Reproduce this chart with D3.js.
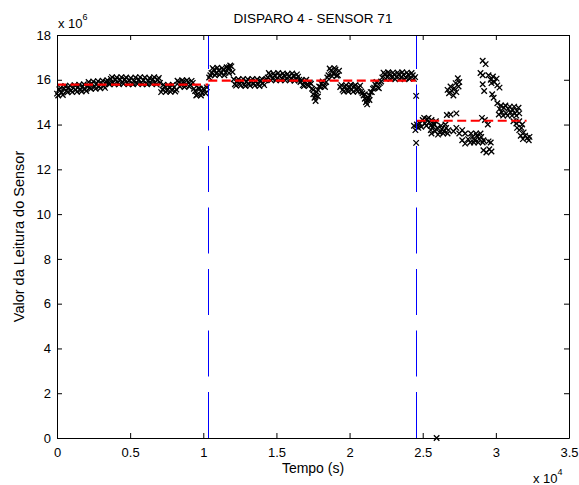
<!DOCTYPE html>
<html>
<head>
<meta charset="utf-8">
<script src="https://cdn.jsdelivr.net/npm/d3@7"></script>
<style>
  body { margin: 0; background: #fff; }
  svg { display: block; font-family: "Liberation Sans", Arial, sans-serif; }
</style>
</head>
<body>
<svg id="chart" width="579" height="485"></svg>
<script>
// leituras do sensor (tempo em s, valor em unidades de 10^6)
const tempo1 = [0,160,320,480,640,800,960,1120,1280,1440,1600,1760,1920,2080,2240,2400,2560,2720,2880,3040,
  3200,3360,3520,3680,3840,4000,4160,4320,4480,4640,4800,4960,5120,5280,5440,5600,5760,5920,6080,6240,
  6400,6560,6720,6880,7040,7200,7360,7520,7680,7840,8000,8160,8320,8480,8640,8800,8960,9120,9280,9440,
  9600,9760,9920,10080,10240,
  80,240,400,560,720,880,1040,1200,1360,1520,1680,1840,2000,2160,2320,2480,2640,2800,2960,3120,
  3280,3440,3600,3760,3920,4080,4240,4400,4560,4720,4880,5040,5200,5360,5520,5680,5840,6000,6160,6320,
  6480,6640,6800,6960,7120,7280,7440,7600,7760,7920,8080,8240,8400,8560,8720,8880,9040,9200,9360,9520,
  9680,9840,10000,10160];
const leitura1 = [15.38,15.58,15.42,15.6,15.5,15.66,15.52,15.64,15.55,15.68,15.54,15.7,15.58,15.72,15.64,15.82,15.68,15.84,15.7,15.86,
  15.72,15.9,15.84,16.04,15.88,16.02,15.86,16.0,15.88,16.02,15.86,15.98,15.84,15.96,15.86,16.0,15.88,15.98,15.84,15.96,
  15.86,16.02,15.88,16.0,15.86,15.56,15.7,15.52,15.68,15.54,15.66,15.56,15.9,15.76,15.92,15.74,15.9,15.76,15.86,15.5,
  15.34,15.6,15.42,15.56,15.66,
  15.3,15.64,15.32,15.72,15.44,15.74,15.45,15.76,15.46,15.78,15.48,15.8,15.5,15.9,15.6,15.92,15.6,15.94,15.62,15.96,
  15.64,15.98,15.8,16.12,15.8,16.1,15.8,16.12,15.82,16.1,15.8,16.08,15.8,16.1,15.82,16.12,15.8,16.1,15.8,16.08,
  15.82,16.12,15.8,16.08,15.45,15.78,15.46,15.76,15.46,15.78,15.48,15.96,15.7,15.98,15.68,15.98,15.7,15.95,15.6,15.3,
  15.62,15.3,15.6,15.4];

const tempo2 = [10400,10560,10720,10880,11040,11200,11360,11520,11680,11760,11840,12000,12160,12320,12480,12640,12800,12960,13120,13280,
  13440,13600,13760,13920,14080,14240,14400,14560,14720,14880,15040,15200,15360,15520,15680,15840,16000,16160,16320,16480,
  16640,16800,16960,17120,17280,17440,17520,17600,17680,17760,17840,17920,18080,18240,18400,18560,18720,18880,19040,19200,
  19360,19520,19680,19840,20000,20160,20320,20480,20640,20800,20960,21040,21120,21200,21280,21360,21440,21600,21760,21920,
  22080,22240,22400,22560,22720,22880,23040,23200,23360,23520,23680,23840,24000,24160,24320,24480,
  10480,10640,10800,10960,11120,11280,11440,11600,11760,11920,12080,12240,12400,12560,12720,12880,13040,13200,13360,13520,
  13680,13840,14000,14160,14320,14480,14640,14800,14960,15120,15280,15440,15600,15760,15920,16080,16240,16400,16560,16720,
  16880,17040,17200,17360,17520,17680,17840,18000,18160,18320,18480,18640,18800,18960,19120,19280,19440,19600,19760,19920,
  20080,20240,20400,20560,20720,20880,21040,21200,21360,21520,21680,21840,22000,22160,22320,22480,22640,22800,22960,23120,
  23280,23440,23600,23760,23920,24080,24240,24400];
const leitura2 = [16.1,16.3,16.45,16.28,16.42,16.3,16.46,16.32,16.5,16.56,16.64,16.35,15.8,15.96,15.8,15.94,15.78,15.92,15.8,15.96,
  15.82,15.94,15.8,15.96,15.84,15.98,16.1,16.22,16.06,16.2,16.04,16.18,16.06,16.2,16.04,16.16,16.04,16.18,16.02,16.14,
  15.9,15.76,15.92,15.78,15.88,15.6,15.35,15.2,15.05,15.45,15.25,15.7,15.82,15.72,15.9,16.2,16.42,16.28,16.46,16.2,
  15.68,15.55,15.7,15.52,15.68,15.56,15.72,15.54,15.66,15.48,15.3,15.15,15.0,14.9,15.2,15.3,15.45,15.6,15.78,15.66,
  15.86,16.1,16.26,16.12,16.28,16.1,16.24,16.12,16.26,16.1,16.22,16.1,16.24,16.08,16.2,16.12,
  16.2,16.52,16.2,16.54,16.22,16.52,16.2,16.56,16.3,16.6,16.02,15.74,16.02,15.74,16.04,15.72,16.02,15.74,16.04,15.74,
  16.02,15.72,16.04,15.76,16.02,16.3,15.98,16.28,15.98,16.3,15.98,16.28,15.98,16.26,15.98,16.28,15.96,16.24,16.0,15.98,
  15.72,16.0,15.72,15.82,15.55,15.3,15.55,15.68,15.92,15.68,16.1,16.5,16.16,16.52,16.18,16.4,15.76,15.48,15.76,15.48,
  15.78,15.46,15.76,15.48,15.74,15.4,15.35,15.1,15.1,15.45,15.65,15.9,15.62,15.92,16.32,16.04,16.34,16.04,16.32,16.02,
  16.32,16.04,16.34,16.02,16.32,16.04,16.3,16.04];

const tempo3 = [24400,24500,24550,24550,24600,24700,24800,24900,
  25000,25150,25300,25450,25600,25750,25900,25100,25250,25400,25550,
  25550,25700,25850,26000,26150,26300,26450,26600,26750,25600,25800,26050,26250,26400,26550,26700,
  25950,26650,26900,27300,
  26700,26800,26900,27000,27100,27150,27250,27300,27400,27450,27500,
  27100,27300,27500,27700,27900,
  27700,27900,28100,28250,
  28400,28550,28700,28850,29000,29150,28300,28500,28650,28800,28950,29100,
  29150,29350,29550,29700,29500,29650,
  29050,29250,29450,
  29100,29300,28950,29100,
  29500,29650,29800,29900,30050,29700,
  29100,29200,29750,29850,30100,30250,
  30100,30250,30400,30550,30700,30850,31000,31150,31300,31450,31600,
  30200,30350,30500,30650,30800,30950,31100,31250,31400,31550,
  31200,31400,31600,31800,
  31450,31600,31750,31900,
  31700,31850,32000,32150,32300,32250];
const leitura3 = [13.95,13.75,15.28,13.18,14.0,13.85,14.05,13.9,
  14.2,14.05,14.25,14.1,14.2,14.0,14.15,14.3,13.95,14.3,13.95,
  13.75,13.9,13.7,13.85,13.65,13.8,13.7,13.85,13.75,13.6,14.0,13.55,13.95,13.6,14.0,13.6,
  0,14.43,14.45,14.5,
  15.55,15.4,15.7,15.5,15.3,15.62,15.85,15.45,16.07,15.7,15.9,
  13.7,13.85,13.6,13.75,13.6,
  13.3,13.15,13.35,13.2,
  13.45,13.3,13.5,13.35,13.45,13.3,13.6,13.2,13.6,13.2,13.6,13.2,
  12.85,12.75,12.9,12.8,13.25,13.2,
  14.3,14.2,14.0,
  16.85,16.7,16.3,16.2,
  16.2,16.0,16.15,15.9,16.05,15.85,
  15.8,15.5,15.35,15.2,15.75,15.65,
  14.95,14.7,14.55,14.75,14.5,14.7,14.55,14.65,14.5,14.6,14.5,
  14.45,14.85,14.4,14.85,14.4,14.8,14.4,14.8,14.4,14.75,
  14.15,14.05,14.15,14.0,
  13.85,13.75,13.85,13.65,
  13.5,13.35,13.5,13.4,13.45,13.3];

// medias por trecho (linhas vermelhas)
const mediaInicio = [0, 10340, 24590];
const mediaFim = [10340, 24520, 32100];
const mediaValor = [15.78, 15.96, 14.17];

// instantes dos disparos (linhas azuis)
const disparos = [10340, 24520];

const xTicks = [0, 5000, 10000, 15000, 20000, 25000, 30000, 35000];
const yTicks = [0, 2, 4, 6, 8, 10, 12, 14, 16, 18];

const margin = {top: 35, right: 10, bottom: 47, left: 57};
const width = 579 - margin.left - margin.right;
const height = 485 - margin.top - margin.bottom;

const x = d3.scaleLinear().domain([0, 35000]).range([0, width]);
const y = d3.scaleLinear().domain([0, 18]).range([height, 0]);

const svg = d3.select("#chart");
svg.append("rect").attr("width", 579).attr("height", 485).attr("fill", "#fff");

const g = svg.append("g")
  .attr("transform", "translate(" + margin.left + "," + margin.top + ")");

// pontos
const pontos = [];
[[tempo1, leitura1], [tempo2, leitura2], [tempo3, leitura3]].forEach(function(s) {
  s[0].forEach(function(t, i) { pontos.push({t: t, v: s[1][i]}); });
});

const cross = "M-2.75,-2.75L2.75,2.75M-2.75,2.75L2.75,-2.75";
g.append("g").selectAll("path")
  .data(pontos)
  .enter().append("path")
    .attr("d", cross)
    .attr("transform", function(d) { return "translate(" + x(d.t) + "," + y(d.v) + ")"; })
    .attr("fill", "none")
    .attr("stroke", "#000")
    .attr("stroke-width", 1.3);

// medias
g.append("g").selectAll("line")
  .data(mediaValor)
  .enter().append("line")
    .attr("x1", function(d, i) { return x(mediaInicio[i]); })
    .attr("x2", function(d, i) { return x(mediaFim[i]); })
    .attr("y1", function(d) { return y(d); })
    .attr("y2", function(d) { return y(d); })
    .attr("stroke", "#ff0000")
    .attr("stroke-width", 2.2)
    .attr("stroke-dasharray", "9,4.5");

// disparos
g.append("g").selectAll("line")
  .data(disparos)
  .enter().append("line")
    .attr("x1", function(d) { return Math.round(x(d)) + 0.5; })
    .attr("x2", function(d) { return Math.round(x(d)) + 0.5; })
    .attr("y1", y(0))
    .attr("y2", y(18))
    .attr("stroke", "#0000ff")
    .attr("stroke-width", 1)
    .attr("stroke-dasharray", "46,15.5");

// eixos
function estilo(sel) {
  sel.attr("font-family", "Liberation Sans, Arial, sans-serif").attr("font-size", 13);
  sel.selectAll("text").attr("fill", "#000");
  sel.selectAll("path, line").attr("stroke", "#000");
}

g.append("g")
  .attr("transform", "translate(0," + height + ")")
  .call(d3.axisBottom(x).tickValues(xTicks).tickSizeInner(-5).tickSizeOuter(0).tickPadding(9.5)
    .tickFormat(function(d) { return d / 10000; }))
  .call(estilo);

g.append("g")
  .call(d3.axisTop(x).tickValues(xTicks).tickSizeInner(-5).tickSizeOuter(0).tickFormat(""))
  .call(estilo);

g.append("g")
  .call(d3.axisLeft(y).tickValues(yTicks).tickSizeInner(-5).tickSizeOuter(0).tickPadding(6))
  .call(estilo);

g.append("g")
  .attr("transform", "translate(" + width + ",0)")
  .call(d3.axisRight(y).tickValues(yTicks).tickSizeInner(-5).tickSizeOuter(0).tickFormat(""))
  .call(estilo);

// textos
const t6 = svg.append("text").attr("x", 58).attr("y", 28).attr("font-size", 13).text("x 10");
t6.append("tspan").attr("font-size", 9).attr("dy", -8).text("6");

const t4 = svg.append("text").attr("x", 533).attr("y", 483).attr("font-size", 13).text("x 10");
t4.append("tspan").attr("font-size", 9).attr("dy", -8).text("4");

svg.append("text")
  .attr("x", margin.left + width / 2)
  .attr("y", 23)
  .attr("text-anchor", "middle")
  .attr("font-size", 13.5)
  .text("DISPARO 4 - SENSOR 71");

svg.append("text")
  .attr("x", margin.left + width / 2)
  .attr("y", 473)
  .attr("text-anchor", "middle")
  .attr("font-size", 14)
  .text("Tempo (s)");

svg.append("text")
  .attr("transform", "translate(24," + (margin.top + height / 2) + ") rotate(-90)")
  .attr("text-anchor", "middle")
  .attr("font-size", 14.5)
  .text("Valor da Leitura do Sensor");
</script>
</body>
</html>
